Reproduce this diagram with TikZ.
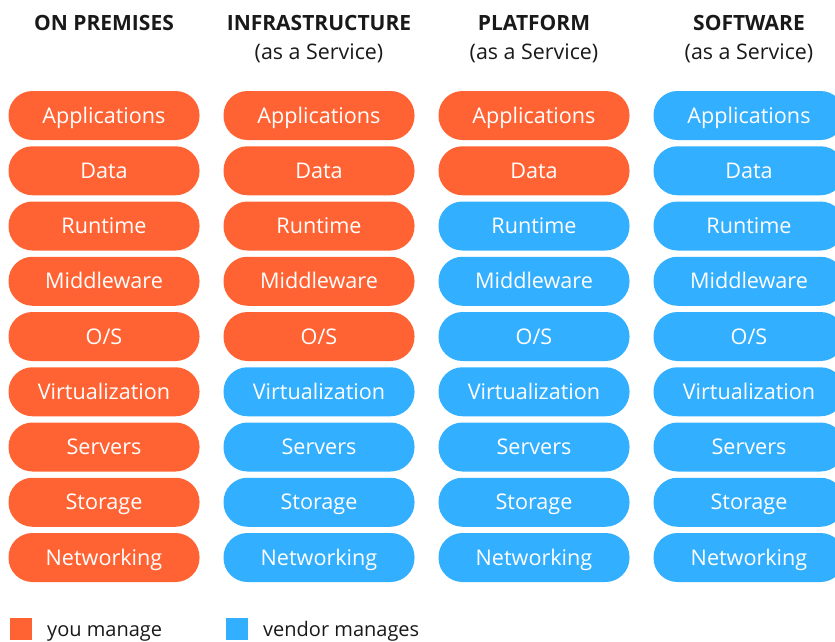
\documentclass[tikz,border=0pt]{standalone}
\usepackage{fontspec}
\setmainfont{Open Sans}
\usetikzlibrary{positioning}

\definecolor{youorange}{HTML}{FF6333}
\definecolor{vendorblue}{HTML}{33AFFF}

\tikzset{
    layer/.style={rounded corners=24pt, minimum width=191pt, minimum height=49pt,
        inner sep=0pt, text height=15pt, text depth=0pt, text=white,
        font=\fontsize{21.6}{25}\selectfont},
    head/.style={inner sep=0pt, text height=15pt, text depth=0pt, text=black!90,
        font=\fontsize{21}{25}\selectfont\bfseries},
    subhead/.style={inner sep=0pt, text height=15pt, text depth=0pt, text=black!90,
        font=\fontsize{21.4}{25}\selectfont},
    keybox/.style={minimum size=22pt, inner sep=0pt},
    keytext/.style={inner sep=0pt, anchor=base west, text=black!90,
        font=\fontsize{20}{24}\selectfont}
}

\begin{document}
\begin{tikzpicture}[x=1pt, y=-1pt]
    \useasboundingbox (0,0) rectangle (835,641);
    % Column headings
    \node[head] (h1) at (104,22.5) {ON PREMISES};
    \node[head] (h2) at (319,22.5) {INFRASTRUCTURE};
    \node[head] (h3) at (534,22.5) {PLATFORM};
    \node[head] (h4) at (749,22.5) {SOFTWARE};
    \node[subhead] (s2) at (319,52) {(as a Service)};
    \node[subhead] (s3) at (534,52) {(as a Service)};
    \node[subhead] (s4) at (749,52) {(as a Service)};
    % The stacks: the first \mine layers are yours, the rest the vendor's
    \foreach \col/\mine in {1/9, 2/5, 3/2, 4/0} {
        \foreach \name [count=\i] in {Applications, Data, Runtime, Middleware, O/S,
                Virtualization, Servers, Storage, Networking} {
            \ifnum\i>\mine
                \def\shade{vendorblue}
            \else
                \def\shade{youorange}
            \fi
            \node[layer, fill=\shade] (l-\col-\i) at ({104+215*(\col-1)}, {115.5+55.25*(\i-1)}) {\name};
        }
    }
    % Legend
    \node[keybox, fill=youorange] (keyyou) at (21,628.5) {};
    \node[keytext] (keyyoutext) at (47,636) {you manage};
    \node[keybox, fill=vendorblue] (keyvendor) at (237,628.5) {};
    \node[keytext] (keyvendortext) at (263,636) {vendor manages};
\end{tikzpicture}
\end{document}
